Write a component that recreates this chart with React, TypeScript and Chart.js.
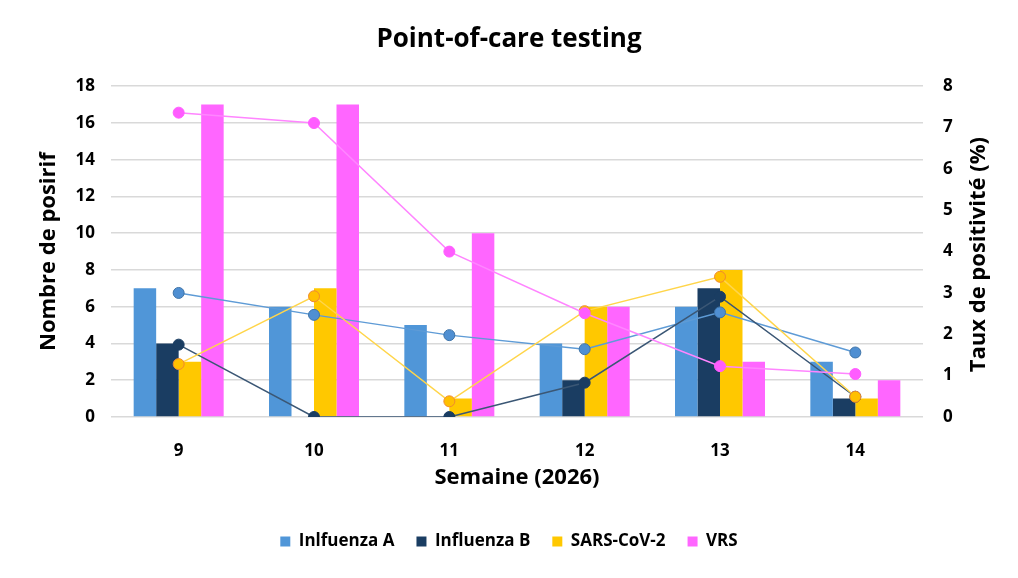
import React, { useEffect, useRef } from "react";
import { Chart, registerables } from "chart.js";

Chart.register(...registerables);

const weeks = ["9", "10", "11", "12", "13", "14"];
const influenzaACount = [7, 6, 5, 4, 6, 3];
const influenzaBCount = [4, 0, 0, 2, 7, 1];
const sarsCount = [3, 7, 1, 6, 8, 1];
const vrsCount = [17, 17, 10, 6, 3, 2];
const influenzaARate = [3.0, 2.47, 1.98, 1.64, 2.53, 1.56];
const influenzaBRate = [1.75, 0, 0, 0.83, 2.91, 0.49];
const sarsRate = [1.28, 2.92, 0.38, 2.56, 3.39, 0.49];
const vrsRate = [7.36, 7.11, 4.0, 2.51, 1.23, 1.04];
const leftTicks = [0, 2, 4, 6, 8, 10, 12, 14, 16, 18];
const rightTicks = [0, 1, 2, 3, 4, 5, 6, 7, 8];

const FONT = "'Open Sans', Lato, sans-serif";

const rightTitlePlugin = {
  id: "rightTitle",
  afterDraw(chart: any) {
    const { ctx, chartArea } = chart;
    ctx.save();
    ctx.translate(979, (chartArea.top + chartArea.bottom) / 2 + 3);
    ctx.rotate(-Math.PI / 2);
    ctx.font = `bold 22px ${FONT}`;
    ctx.fillStyle = "#000000";
    ctx.textAlign = "center";
    ctx.textBaseline = "middle";
    ctx.fillText("Taux de positivité (%)", 0, 0);
    ctx.restore();
  },
};

export default function App() {
  const ref = useRef<HTMLCanvasElement>(null);
  useEffect(() => {
    if (!ref.current) return;
    const barDs = (label: string, data: number[], color: string, order: number) => ({
      type: "bar" as const,
      label,
      data,
      backgroundColor: color,
      borderWidth: 0,
      yAxisID: "y",
      order,
      categoryPercentage: 0.665,
      barPercentage: 1.0,
    });
    const lineDs = (
      label: string,
      data: number[],
      line: string,
      fill: string,
      border: string,
      order: number
    ) => ({
      type: "line" as const,
      label,
      data,
      borderColor: line,
      borderWidth: 1.5,
      pointBackgroundColor: fill,
      pointBorderColor: border,
      pointBorderWidth: 1,
      pointRadius: 5.5,
      yAxisID: "y1",
      order,
      tension: 0,
    });
    const chart = new Chart(ref.current, {
      type: "bar",
      data: {
        labels: weeks,
        datasets: [
          barDs("Inlfuenza A", influenzaACount, "#5096D8", 4),
          barDs("Influenza B", influenzaBCount, "#1A3D62", 5),
          barDs("SARS-CoV-2", sarsCount, "#FFC800", 6),
          barDs("VRS", vrsCount, "#FF66FF", 7),
          lineDs("Taux Influenza A", influenzaARate, "#5E9BD6", "#4F8FD2", "#3F74A8", 3),
          lineDs("Taux Influenza B", influenzaBRate, "#3B5775", "#1A3D62", "#1A3D62", 2),
          lineDs("Taux SARS-CoV-2", sarsRate, "#FFD54A", "#FFC000", "#F08A30", 1),
          lineDs("Taux VRS", vrsRate, "#FF85FF", "#FF5CFF", "#FF5CFF", 0),
        ],
      } as any,
      options: {
        animation: false,
        responsive: false,
        layout: { padding: { left: 0, right: 0, top: 0, bottom: 18 } },
        plugins: {
          title: {
            display: true,
            text: "Point-of-care testing",
            color: "#000000",
            font: { family: FONT, size: 26, weight: "bold" },
            padding: { top: 24, bottom: 31 },
          },
          legend: {
            position: "bottom",
            labels: {
              filter: (item: any) => item.datasetIndex < 4,
              sort: (a: any, b: any) => a.datasetIndex - b.datasetIndex,
              boxWidth: 10,
              boxHeight: 10,
              padding: 22,
              color: "#000000",
              font: { family: FONT, size: 17, weight: "bold" },
            },
          },
          tooltip: { enabled: false },
        },
        scales: {
          x: {
            grid: { display: false },
            border: { display: false },
            ticks: {
              color: "#000000",
              padding: 16,
              font: { family: FONT, size: 17, weight: "bold" },
            },
            title: {
              display: true,
              text: "Semaine (2026)",
              color: "#000000",
              font: { family: FONT, size: 22, weight: "bold" },
              padding: { top: 0, bottom: 20 },
            },
            afterFit: (s: any) => {
              s.height = 94;
            },
          },
          y: {
            position: "left",
            min: 0,
            max: 18,
            afterBuildTicks: (s: any) => {
              s.ticks = leftTicks.map((v) => ({ value: v }));
            },
            grid: { color: "#D9D9D9", lineWidth: 1.5, drawTicks: false },
            border: { display: false },
            ticks: {
              color: "#000000",
              padding: 16,
              font: { family: FONT, size: 17, weight: "bold" },
            },
            title: {
              display: true,
              text: "Nombre de posirif",
              color: "#000000",
              font: { family: FONT, size: 22, weight: "bold" },
              padding: { top: 36, bottom: 0 },
            },
            afterFit: (s: any) => {
              s.width = 111;
            },
          },
          y1: {
            position: "right",
            min: 0,
            max: 8,
            afterBuildTicks: (s: any) => {
              s.ticks = rightTicks.map((v) => ({ value: v }));
            },
            grid: { drawOnChartArea: false, drawTicks: false },
            border: { display: false },
            ticks: {
              color: "#000000",
              padding: 20,
              font: { family: FONT, size: 17, weight: "bold" },
            },
            afterFit: (s: any) => {
              s.width = 95;
            },
          },
        },
      } as any,
      plugins: [rightTitlePlugin],
    });
    return () => chart.destroy();
  }, []);
  return (
    <div style={{ position: "relative", width: 1018, height: 578, margin: -8, background: "#ffffff" }}>
      <div
        style={{
          position: "absolute",
          left: 3,
          top: 1,
          width: 1006,
          height: 572,
          border: "2px solid #DADADA",
        }}
      />
      <canvas ref={ref} width={1018} height={578} style={{ position: "absolute", left: 0, top: 0 }} />
    </div>
  );
}
